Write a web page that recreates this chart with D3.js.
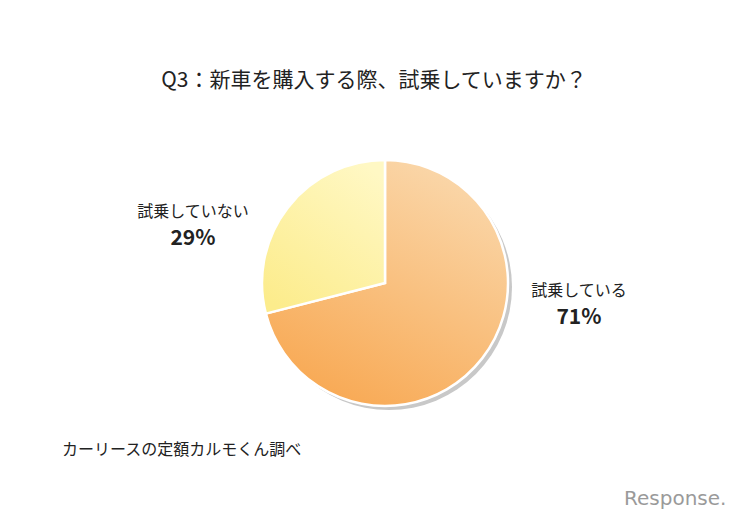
<!DOCTYPE html>
<html><head><meta charset="utf-8">
<script src="https://cdn.jsdelivr.net/npm/d3@7"></script>
<style>body{margin:0;background:#fff}svg{display:block}</style>
</head><body>
<svg id="c" width="750" height="520"></svg>
<script>
const categories = ["試乗している", "試乗していない"];
const values = [71, 29];
const pctLabels = ["71%", "29%"];
const title = "Q3：新車を購入する際、試乗していますか？";
const source = "カーリースの定額カルモくん調べ";

const svg = d3.select("#c");
const font = "'Noto Sans CJK JP', 'Noto Sans', sans-serif";
const defs = svg.append("defs");
const g1 = defs.append("linearGradient").attr("id","gO").attr("x1","0.75").attr("y1","0").attr("x2","0.25").attr("y2","1");
g1.append("stop").attr("offset","0").attr("stop-color","#fad8ac");
g1.append("stop").attr("offset","1").attr("stop-color","#f8a852");
const g2 = defs.append("linearGradient").attr("id","gY").attr("x1","0.8").attr("y1","0").attr("x2","0.2").attr("y2","1");
g2.append("stop").attr("offset","0").attr("stop-color","#fff8c4");
g2.append("stop").attr("offset","1").attr("stop-color","#fcec8c");
const fills = ["url(#gO)", "url(#gY)"];

const cx = 385, cy = 283, r = 123;
const pie = d3.pie().sort(null).value(d => d)(values);
const arc = d3.arc().innerRadius(0).outerRadius(r);

svg.append("circle").attr("cx", cx + 4).attr("cy", cy + 4).attr("r", r).attr("fill", "#c8c8c8");
const pg = svg.append("g").attr("transform", `translate(${cx},${cy})`);
pg.selectAll("path").data(pie).join("path")
  .attr("d", arc).attr("fill", (d,i) => fills[i])
  .attr("stroke", "#fff").attr("stroke-width", 2.5).attr("stroke-linejoin","miter");

svg.append("text").attr("x", 374).attr("y", 87).attr("text-anchor","middle")
  .attr("font-family", font).attr("font-size", 21).attr("fill","#222").text(title);

const labelPos = [[579, 296], [193, 217]];
pie.forEach((d,i) => {
  svg.append("text").attr("x", labelPos[i][0]).attr("y", labelPos[i][1]).attr("text-anchor","middle")
    .attr("font-family", font).attr("font-size", 16).attr("fill","#222").text(categories[i]);
  svg.append("text").attr("x", labelPos[i][0]).attr("y", labelPos[i][1] + 28).attr("text-anchor","middle")
    .attr("font-family", font).attr("font-size", 21).attr("font-weight","bold").attr("fill","#222").text(pctLabels[i]);
});

svg.append("text").attr("x", 62).attr("y", 455)
  .attr("font-family", font).attr("font-size", 16).attr("fill","#222").text(source);

svg.append("text").attr("x", 624).attr("y", 505)
  .attr("font-family", "'DejaVu Sans', sans-serif").attr("font-size", 20)
  .attr("fill","#9a9a9a").attr("letter-spacing", 0).text("Response.");
</script>
</body></html>
